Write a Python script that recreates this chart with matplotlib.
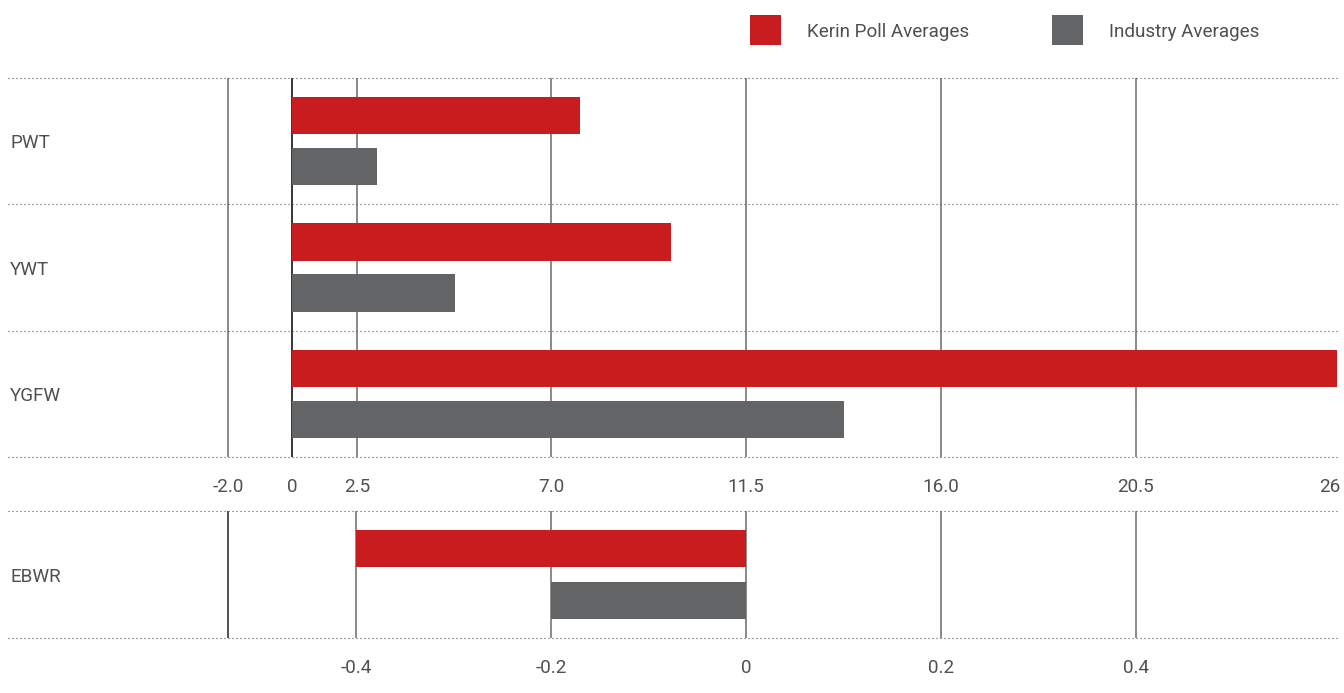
import matplotlib
matplotlib.use('Agg')
import matplotlib.pyplot as plt
import matplotlib.transforms as mtransforms
from matplotlib.patches import Rectangle
import numpy as np

# data
categories = ['PWT', 'YWT', 'YGFW']
kerin = [7.67, 9.77, 26.2]
industry = [2.96, 4.77, 13.76]
tick_vals = [-2.0, 0, 2.5, 7.0, 11.5, 16.0, 20.5, 26]
tick_labels = ['-2.0', '0', '2.5', '7.0', '11.5', '16.0', '20.5', '26']

ebwr_cat = ['EBWR']
ebwr_kerin = [-0.4]
ebwr_industry = [-0.2]
bottom_ticks = [-0.4, -0.2, 0, 0.2, 0.4]
bottom_labels = ['-0.4', '-0.2', '0', '0.2', '0.4']

RED = '#c91c1e'
GRAY = '#636466'
TXT = '#505050'
W, H = 1344, 693
FS = 13.6

plt.rcParams['font.family'] = ['Roboto', 'DejaVu Sans']

# uneven top scale: tick values sit at these pixel columns
tick_px = [228, 292, 357, 551, 746, 941, 1136, 1330]
lslope = (tick_px[1] - tick_px[0]) / (tick_vals[1] - tick_vals[0])
rslope = (tick_px[-1] - tick_px[-2]) / (tick_vals[-1] - tick_vals[-2])
xv = [tick_vals[0] - 50] + tick_vals + [tick_vals[-1] + 50]
xp = [tick_px[0] - 50 * lslope] + tick_px + [tick_px[-1] + 50 * rslope]

def fwd(x):
    return np.interp(x, xv, xp)

def inv(p):
    return np.interp(p, xp, xv)

fig = plt.figure(figsize=(W / 100, H / 100), dpi=100)
left, right = 8, 1340
ax = fig.add_axes([left / W, (H - 457) / H, (right - left) / W, (457 - 78) / H])
ax2 = fig.add_axes([left / W, (H - 638) / H, (right - left) / W, (638 - 511) / H])

dot = dict(color='#555555', lw=0.8, linestyle=(0, (1, 2.6)), clip_on=False)
bh, off = 0.294, 0.202

# top panel
ax.set_xscale('function', functions=(fwd, inv))
ax.set_xlim(inv(left), inv(right))
ax.set_ylim(2.5, -0.5)
y = np.arange(len(categories))
ax.barh(y - off, kerin, height=bh, color=RED, zorder=3)
ax.barh(y + off, industry, height=bh, color=GRAY, zorder=3)
for v in tick_vals[:-1]:
    ax.axvline(v, color='black' if v == 0 else '#6a6a6a', lw=1.1, zorder=1)
for b in np.arange(-0.5, len(categories), 1.0):
    ax.axhline(b, zorder=2, **dot)
ax.set_xticks(tick_vals)
ax.set_xticklabels(tick_labels)
ax.set_yticks([])
trans = mtransforms.blended_transform_factory(ax.transAxes, ax.transData)
for i, c in enumerate(categories):
    ax.text(2 / (right - left), i, c, transform=trans, va='center_baseline', ha='left',
            fontsize=FS, color=TXT)

# bottom panel, linear: 0 at px 746, 0.2 per 195 px
ppu = 975.0
zero_px = 746
ax2.set_xlim((left - zero_px) / ppu, (right - zero_px) / ppu)
ax2.set_ylim(0.5, -0.5)
y2 = np.arange(len(ebwr_cat))
ax2.barh(y2 - off / 126 * 127, ebwr_kerin, height=bh * 126 / 127, color=RED, zorder=3)
ax2.barh(y2 + off / 126 * 127, ebwr_industry, height=bh * 126 / 127, color=GRAY, zorder=3)
ax2.axvline((tick_px[0] - zero_px) / ppu, color='#222222', lw=1.1, zorder=1)
for v in bottom_ticks:
    ax2.axvline(v, color='#6a6a6a', lw=1.1, zorder=1)
for b in (-0.5, 0.5):
    ax2.axhline(b, zorder=2, **dot)
ax2.set_xticks(bottom_ticks)
ax2.set_xticklabels(bottom_labels)
ax2.set_yticks([])
trans2 = mtransforms.blended_transform_factory(ax2.transAxes, ax2.transData)
for i, c in enumerate(ebwr_cat):
    ax2.text(2 / (right - left), i, c, transform=trans2, va='center_baseline', ha='left',
             fontsize=FS, color=TXT)

for a in (ax, ax2):
    for s in a.spines.values():
        s.set_visible(False)
    a.tick_params(axis='x', length=0, pad=15, labelsize=FS, labelcolor=TXT)
    a.set_facecolor('none')

# legend
leg = [('Kerin Poll Averages', RED, 750, 807), ('Industry Averages', GRAY, 1052, 1109)]
for label, col, bx, tx in leg:
    fig.add_artist(Rectangle((bx / W, (H - 45) / H), 31 / W, 30 / H,
                             transform=fig.transFigure, color=col, lw=0))
    fig.text(tx / W, (H - 30) / H, label, va='center_baseline', ha='left',
             fontsize=FS, color=TXT)

fig.savefig('out.png', dpi=100)
